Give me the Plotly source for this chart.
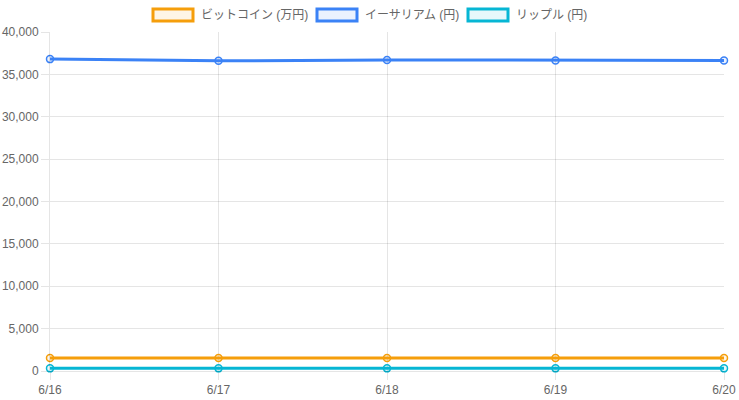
import plotly.graph_objects as go

dates = ["6/16", "6/17", "6/18", "6/19", "6/20"]
btc = [1530, 1530, 1530, 1530, 1530]
eth = [36800, 36600, 36700, 36650, 36650]
xrp = [310, 310, 310, 310, 310]

series = [
    ("ビットコイン (万円)", btc, "#f59e0b", "rgba(245,158,11,0.1)"),
    ("イーサリアム (円)", eth, "#3b82f6", "rgba(59,130,246,0.1)"),
    ("リップル (円)", xrp, "#06b6d4", "rgba(6,182,212,0.1)"),
]

W, H = 739, 400
# plot area in screen pixels: x 50..724, y 32..371
L, T = 50, 32
R, B = W - 724, H - 371
pw, ph = W - L - R, H - T - B

fig = go.Figure()
for name, vals, col, fillc in series:
    fig.add_trace(go.Scatter(
        x=dates, y=vals, name=name, mode="lines+markers",
        line=dict(color=col, width=3),
        marker=dict(size=7, color=fillc, line=dict(color=col, width=1.5)),
        cliponaxis=False, showlegend=False,
    ))

def px2x(p):
    return (p - L) / pw

def px2y(p):
    return (H - B - p) / ph

# custom legend (boxes like the reference)
legend_pos = [(153, 199), (317, 363), (468, 514)]
shapes = []
annotations = []
for (name, _, col, fillc), (bx, tx) in zip(series, legend_pos):
    shapes.append(dict(type="rect", xref="paper", yref="paper",
                       x0=px2x(bx), x1=px2x(bx + 40), y0=px2y(21), y1=px2y(9),
                       line=dict(color=col, width=3), fillcolor=fillc))
    annotations.append(dict(text=name, xref="paper", yref="paper",
                            x=px2x(tx), y=px2y(15), xanchor="left", yanchor="middle",
                            showarrow=False,
                            font=dict(size=12, color="#666",
                                      family="Liberation Sans, Noto Sans CJK JP, sans-serif")))

grid = "rgba(0,0,0,0.1)"
fig.update_layout(
    width=W, height=H,
    margin=dict(l=L, r=R, t=T, b=B, autoexpand=False),
    paper_bgcolor="white", plot_bgcolor="white",
    font=dict(family="Liberation Sans, Noto Sans CJK JP, sans-serif", size=12, color="#666"),
    shapes=shapes, annotations=annotations,
    xaxis=dict(type="category", range=[0, 4], showgrid=True, gridcolor=grid,
               ticks="outside", ticklen=8, tickcolor=grid, showline=True,
               linecolor=grid, zeroline=False, automargin=False),
    yaxis=dict(range=[0, 40000], dtick=5000, tickformat=",", showgrid=True,
               gridcolor=grid, ticks="outside", ticklen=8, tickcolor=grid,
               showline=True, linecolor=grid, zeroline=False, automargin=False),
)
fig.write_html(
    "out.html",
    config={"displayModeBar": False},
    post_script="document.body.style.margin='0px';document.body.style.overflow='hidden';",
)
